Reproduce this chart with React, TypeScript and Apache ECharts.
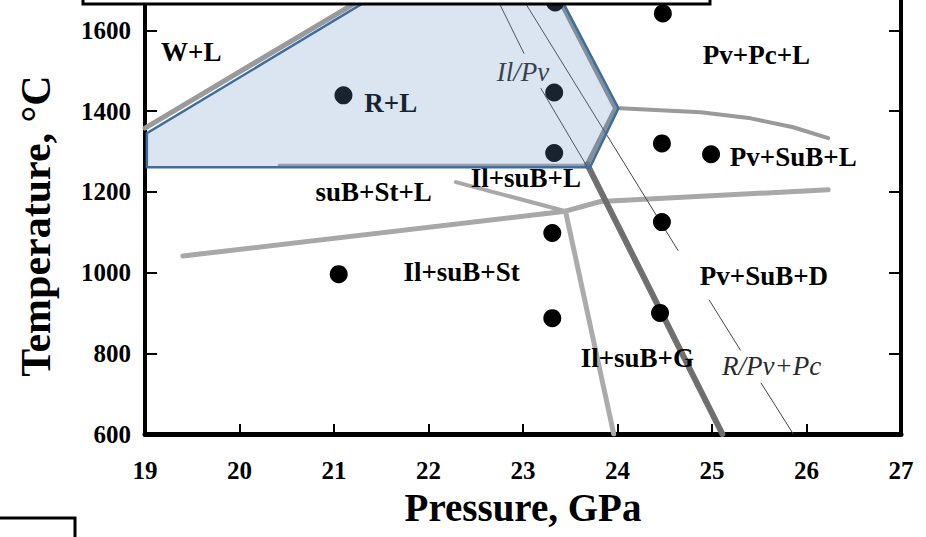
import React, { useEffect, useRef } from 'react';
import * as echarts from 'echarts';

// Axis ranges (Pressure, GPa / Temperature, °C)
const pressureMin = 19;
const pressureMax = 27;
const temperatureMin = 600;
const temperatureMax = 1700;

// R+L field (shaded polygon)
const rlRegionP = [19.02, 19.02, 23.71, 24.01, 23.31, 21.68];
const rlRegionT = [1345, 1261, 1261, 1407, 1720, 1720];

// Phase boundaries (thick grey)
const wlBoundary = [[19.0, 1358], [21.6, 1720]];
const rlRightBoundary = [[23.29, 1720], [23.98, 1407], [23.68, 1268]];
const rlBottomBoundary = [[20.42, 1266], [23.69, 1266]];
const pvPcBoundary = [[24.03, 1407], [24.88, 1397], [25.41, 1382], [25.86, 1360], [26.23, 1333]];
const ilSubLLower = [[22.29, 1224], [23.45, 1152]];
const ilSubStUpper = [[19.4, 1041], [23.45, 1152]];
const pvSubUpper = [[23.45, 1152], [23.82, 1176], [26.23, 1205]];
const ilSubGBoundary = [[23.45, 1152], [23.96, 600]];
const ilPvThick = [[23.68, 1268], [25.11, 600]];

// Thin reaction lines (with gaps for labels)
const ilPvThinSegments = [
  [[22.68, 1700], [23.01, 1543]],
  [[23.19, 1456], [23.69, 1258]],
];
const rPvPcThinSegments = [
  [[22.94, 1700], [24.64, 1055]],
  [[24.97, 932], [25.3, 808]],
  [[25.52, 726], [25.86, 600]],
];

// Experimental runs
const runP = [23.34, 24.48, 21.1, 23.33, 23.33, 24.47, 24.99, 21.05, 23.31, 24.47, 23.31, 24.45];
const runT = [1669, 1642, 1439, 1446, 1296, 1320, 1293, 996, 1098, 1125, 887, 900];

// Field labels
const phaseLabels = ['W+L', 'R+L', 'Pv+Pc+L', 'Pv+SuB+L', 'suB+St+L', 'Il+suB+L', 'Il+suB+St', 'Pv+SuB+D', 'Il+suB+G'];
const phaseLabelP = [19.49, 21.6, 25.47, 25.86, 21.42, 23.03, 22.35, 25.55, 24.21];
const phaseLabelT = [1546, 1419, 1538, 1286, 1199, 1234, 1001, 991, 788];

const reactionLabels = ['Il/Pv', 'R/Pv+Pc'];
const reactionLabelP = [23.0, 25.63];
const reactionLabelT = [1496, 768];

const FONT = "'Liberation Serif', 'Times New Roman', serif";
const OFFSET = 10; // chart container starts 10px above the page

function lineSeries(data: number[][], color: string, width: number, z = 2) {
  return {
    type: 'line',
    data,
    showSymbol: false,
    symbol: 'none',
    silent: true,
    z,
    lineStyle: { color, width, cap: 'round', join: 'round' },
  };
}

export default function App() {
  const ref = useRef<HTMLDivElement>(null);

  useEffect(() => {
    if (!ref.current) return;
    const chart = echarts.init(ref.current, null, { renderer: 'svg' });

    const series: any[] = [
      lineSeries(wlBoundary, '#9a9a9a', 5),
      lineSeries(rlRightBoundary, '#8e8e8e', 5),
      lineSeries(rlBottomBoundary, '#a3a3a3', 3),
      lineSeries(pvPcBoundary, '#9a9a9a', 4),
      lineSeries(ilSubLLower, '#a8a8a8', 4),
      lineSeries(ilSubStUpper, '#a8a8a8', 5),
      lineSeries(pvSubUpper, '#a8a8a8', 5),
      lineSeries(ilSubGBoundary, '#ababab', 5),
      lineSeries(ilPvThick, '#6f6f6f', 6),
      ...ilPvThinSegments.map((s) => lineSeries(s, '#444', 1)),
      ...rPvPcThinSegments.map((s) => lineSeries(s, '#444', 1)),
      {
        type: 'scatter',
        data: runP.map((p, i) => [p, runT[i]]),
        symbolSize: 18,
        itemStyle: { color: '#000', opacity: 1 },
        silent: true,
        z: 3,
      },
      {
        type: 'scatter',
        data: phaseLabels.map((n, i) => ({ name: n, value: [phaseLabelP[i], phaseLabelT[i]] })),
        symbolSize: 1,
        itemStyle: { color: 'rgba(0,0,0,0)', opacity: 1 },
        silent: true,
        z: 3,
        label: {
          show: true,
          position: 'inside',
          formatter: '{b}',
          fontFamily: FONT,
          fontWeight: 'bold',
          fontSize: 27,
          color: '#000',
          opacity: 1,
        },
      },
      {
        type: 'scatter',
        data: reactionLabels.map((n, i) => ({ name: n, value: [reactionLabelP[i], reactionLabelT[i]] })),
        symbolSize: 1,
        itemStyle: { color: 'rgba(0,0,0,0)', opacity: 1 },
        silent: true,
        z: 3,
        label: {
          show: true,
          position: 'inside',
          formatter: '{b}',
          fontFamily: FONT,
          fontStyle: 'italic',
          fontSize: 27,
          color: '#2a2a2a',
          opacity: 1,
        },
      },
      {
        type: 'custom',
        z: 10,
        silent: true,
        data: [[rlRegionP[0], rlRegionT[0]]],
        renderItem: (params: any, api: any) => ({
          type: 'polygon',
          shape: { points: rlRegionP.map((p, i) => api.coord([p, rlRegionT[i]])) },
          style: { fill: 'rgba(100,147,196,0.24)', stroke: '#3f6d9e', lineWidth: 2.5 },
        }),
      },
    ];

    chart.setOption({
      animation: false,
      backgroundColor: '#fff',
      grid: { left: 145, right: 25, top: 0, bottom: 103, containLabel: false },
      xAxis: [
        {
          type: 'value',
          min: pressureMin,
          max: pressureMax,
          interval: 1,
          position: 'bottom',
          axisLine: { show: true, onZero: false, lineStyle: { color: '#000', width: 5 } },
          axisTick: { show: true, inside: true, length: 10, lineStyle: { color: '#000', width: 2 } },
          axisLabel: { fontFamily: FONT, fontWeight: 'bold', fontSize: 25, color: '#000', margin: 24 },
          splitLine: { show: false },
          name: 'Pressure, GPa',
          nameLocation: 'middle',
          nameGap: 54,
          nameTextStyle: { fontFamily: FONT, fontWeight: 'bold', fontSize: 39, color: '#000' },
        },
      ],
      yAxis: [
        {
          type: 'value',
          min: temperatureMin,
          max: temperatureMax,
          interval: 200,
          position: 'left',
          axisLine: { show: true, onZero: false, lineStyle: { color: '#000', width: 4 } },
          axisTick: { show: true, inside: true, length: 12, lineStyle: { color: '#000', width: 2 } },
          axisLabel: {
            fontFamily: FONT,
            fontWeight: 'bold',
            fontSize: 25,
            color: '#000',
            margin: 14,
            showMaxLabel: false,
            formatter: (v: number) => String(v),
          },
          splitLine: { show: false },
          name: 'Temperature, °C',
          nameLocation: 'middle',
          nameRotate: 90,
          nameGap: 88,
          nameTextStyle: {
            fontFamily: FONT,
            fontWeight: 'bold',
            fontSize: 42,
            color: '#000',
            padding: [0, 28, 0, 0],
          },
        },
        {
          type: 'value',
          min: temperatureMin,
          max: temperatureMax,
          interval: 200,
          position: 'right',
          axisLine: { show: true, onZero: false, lineStyle: { color: '#000', width: 4 } },
          axisTick: { show: true, inside: true, length: 12, lineStyle: { color: '#000', width: 2 } },
          axisLabel: { show: false },
          splitLine: { show: false },
        },
      ],
      graphic: [
        {
          type: 'rect',
          z: 100,
          shape: { x: 83, y: -20 + OFFSET, width: 627, height: 24 },
          style: { fill: '#fff', stroke: '#000', lineWidth: 3 },
        },
        {
          type: 'polyline',
          z: 100,
          shape: { points: [[0, 518 + OFFSET], [75, 518 + OFFSET], [75, 545 + OFFSET]] },
          style: { stroke: '#000', lineWidth: 3, fill: null },
        },
      ],
      series,
    });

    return () => chart.dispose();
  }, []);

  return (
    <div
      ref={ref}
      style={{ position: 'fixed', left: 0, top: -OFFSET, width: 926, height: 537 + OFFSET, background: '#fff' }}
    />
  );
}
